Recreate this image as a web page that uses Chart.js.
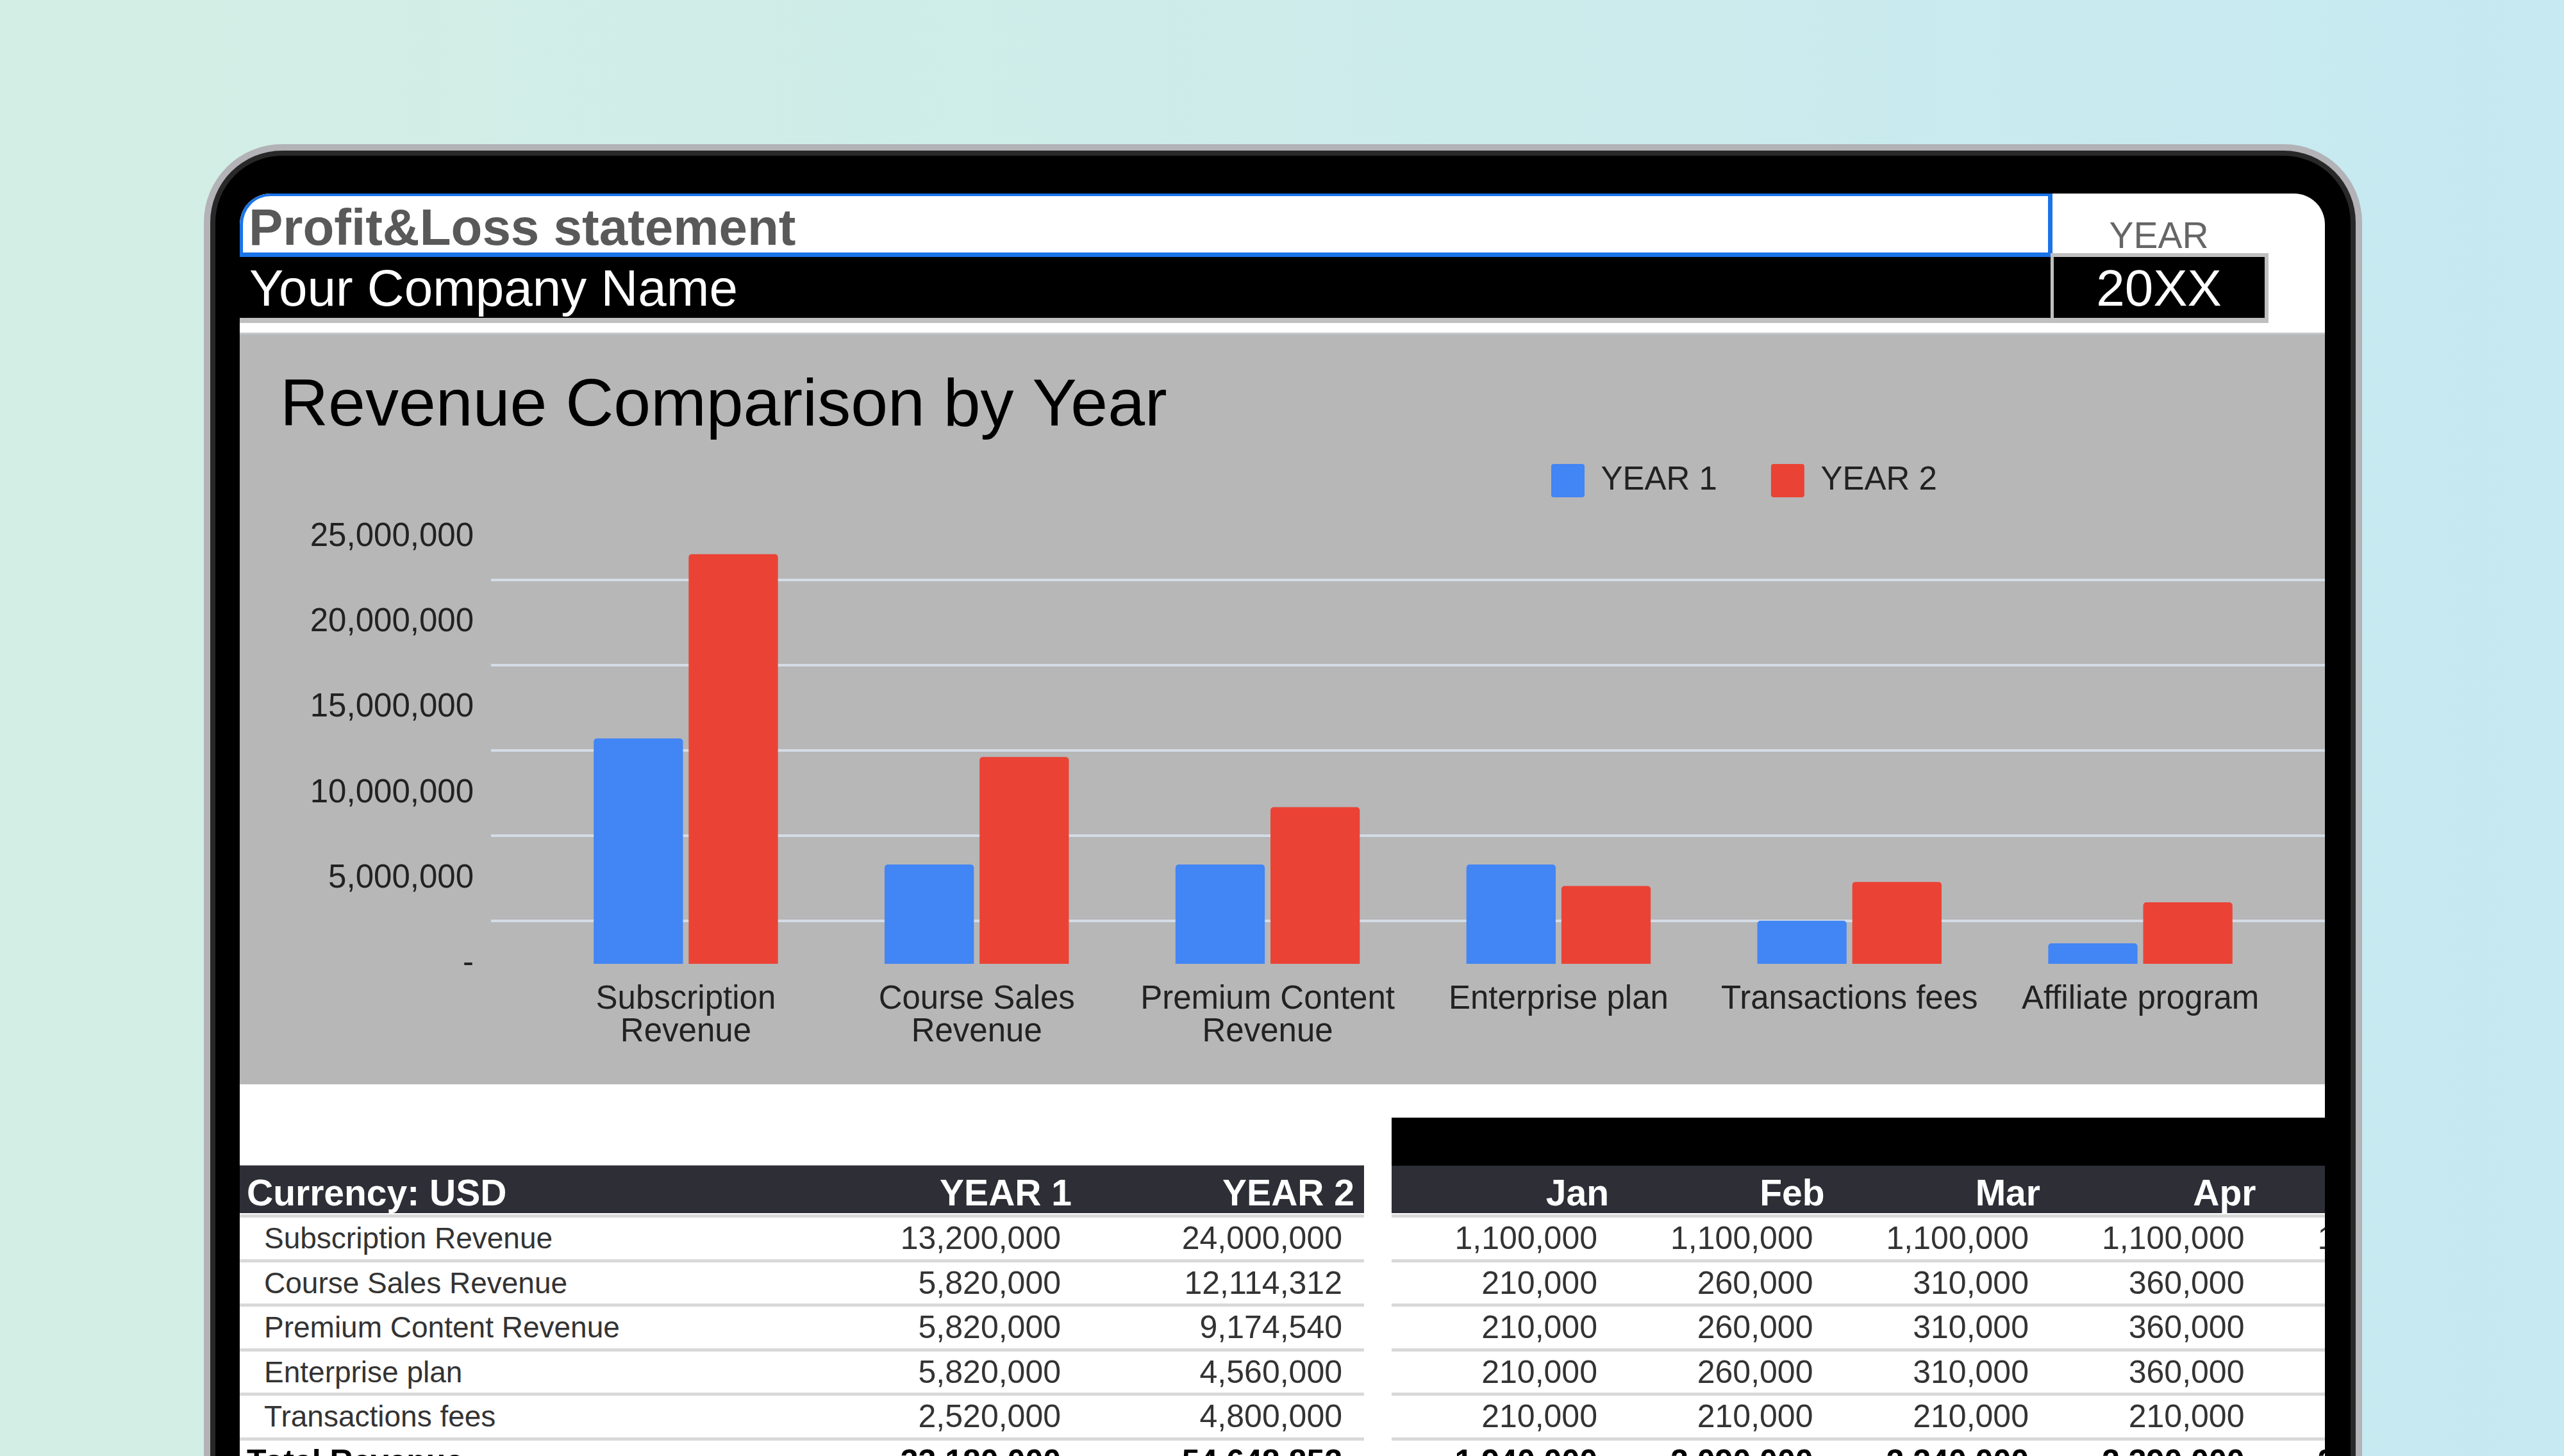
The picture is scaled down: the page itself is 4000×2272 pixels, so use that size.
<!DOCTYPE html>
<html>
<head>
<meta charset="utf-8">
<title>Profit&amp;Loss statement</title>
<script src="https://cdn.jsdelivr.net/npm/chart.js@4.4.1/dist/chart.umd.min.js"></script>
<style>
	html, body { margin: 0; padding: 0; }
	body {
		width: 4000px; height: 2272px; overflow: hidden; position: relative;
		background: linear-gradient(90deg, #d3eee4 0%, #cdecea 50%, #c6e9f2 100%);
		font-family: "Liberation Sans", Arial, sans-serif;
	}
	.device { position: absolute; left: 318px; top: 225px; width: 3367px; height: 2200px; background: #b2b2b7; border-radius: 122px 122px 0 0; }
	.ring { position: absolute; left: 10px; top: 10px; right: 10px; bottom: 0; background: #282828; border-radius: 112px 112px 0 0; }
	.bezel { position: absolute; left: 8px; top: 8px; right: 8px; bottom: 0; background: #000; border-radius: 104px 104px 0 0; }
	.screen { position: absolute; left: 374px; top: 302px; width: 3253px; height: 2000px; background: #fff; border-radius: 48px 48px 0 0; overflow: hidden; }
	.abs { position: absolute; white-space: nowrap; }
	.titlecell { left: 0; top: 0; width: 2828px; height: 99px; box-sizing: border-box; border-style: solid; border-color: #1a73e8; border-width: 4px 7px 7px 5px; border-top-left-radius: 48px; }
	.blackrow { left: 0; top: 99px; width: 2825px; height: 95px; background: #000; }
	.grayline { left: 0; top: 194px; width: 2825px; height: 8px; background: #c0c0c0; }
	.yearcell { left: 2825px; top: 93px; width: 340px; height: 109px; box-sizing: border-box; background: #000; border-style: solid; border-color: #bfbfbf; border-width: 6px 6px 8px 5px; }
	.t-main { left: 14px; top: 13px; font-size: 80px; line-height: 80px; font-weight: bold; color: #595959; }
	.t-year { left: 2994px; top: 37px; font-size: 57px; line-height: 57px; color: #666; transform: translateX(-50%); }
	.t-company { left: 15px; top: 108px; font-size: 80px; line-height: 80px; color: #fff; }
	.t-20xx { left: 2994px; top: 108px; font-size: 80px; line-height: 80px; color: #fff; transform: translateX(-50%); }
	.panel { left: 0; top: 217px; width: 3253px; height: 1173px; background: #b7b7b7; box-shadow: inset 0 3px 0 #c4c7cc; }
	.panel canvas { position: absolute; left: 0; top: 0; width: 3253px; height: 1173px; }
	.tbl { position: absolute; }
	.cell { position: absolute; white-space: nowrap; }
	.hdr { color: #fff; font-weight: bold; font-size: 57px; }
	.lbl { color: #333; font-size: 46px; }
	.num { color: #333; font-size: 50px; }
	.tot { color: #000; font-weight: bold; font-size: 50px; }
</style>
</head>
<body>
<div class="device"><div class="ring"><div class="bezel"></div></div></div>
<div class="screen" id="screen">
	<div class="abs titlecell"></div>
	<div class="abs blackrow"></div>
	<div class="abs grayline"></div>
	<div class="abs yearcell"></div>
	<div class="abs t-main">Profit&amp;Loss statement</div>
	<div class="abs t-year">YEAR</div>
	<div class="abs t-company">Your Company Name</div>
	<div class="abs t-20xx">20XX</div>
	<div class="abs panel"><canvas id="chart" width="3253" height="1173"></canvas></div>
	<div class="tbl" id="leftTable" style="left:0; top:1516px; width:1754px; height:500px;"></div>
	<div class="tbl" id="rightTable" style="left:1797px; top:1442px; width:2000px; height:600px;"></div>
</div>
<script>
// chart data
var categories = [
	['Subscription', 'Revenue'],
	['Course Sales', 'Revenue'],
	['Premium Content', 'Revenue'],
	'Enterprise plan',
	'Transactions fees',
	'Affiliate program'
];
var seriesNames = ['YEAR 1', 'YEAR 2'];
var year1Values = [13200000, 5820000, 5820000, 5820000, 2520000, 1200000];
var year2Values = [24000000, 12114312, 9174540, 4560000, 4800000, 3600000];
var gridValues = [2500000, 7500000, 12500000, 17500000, 22500000];

// table data
var rowLabels = ['Subscription Revenue', 'Course Sales Revenue', 'Premium Content Revenue', 'Enterprise plan', 'Transactions fees'];
var tableYear1 = [13200000, 5820000, 5820000, 5820000, 2520000];
var tableYear2 = [24000000, 12114312, 9174540, 4560000, 4800000];
var months = ['Jan', 'Feb', 'Mar', 'Apr', 'May'];
var janValues = [1100000, 210000, 210000, 210000, 210000];
var febValues = [1100000, 260000, 260000, 260000, 210000];
var marValues = [1100000, 310000, 310000, 310000, 210000];
var aprValues = [1100000, 360000, 360000, 360000, 210000];
var mayValues = [1100000, 410000, 410000, 410000, 210000];

var FONT = '"Liberation Sans", Arial, sans-serif',
	BLUE = '#4285f4',
	RED = '#ea4335',
	GRID_COLOR = '#d4dce7',
	GRID_LEFT = 392,     // gridlines start left of the first category
	LEGEND_LEFT = 1962,
	LEGEND_TOP = 121;

function fmt(v) {
	return v.toLocaleString('en-US');
}
function sum(arr) {
	return arr.reduce(function (a, b) { return a + b; }, 0);
}

// Sheets draws its gridlines half way between the labelled values
var offsetGrid = {
	id: 'offsetGrid',
	beforeDatasetsDraw: function (chart) {
		var ctx = chart.ctx,
			y = chart.scales.y;
		ctx.save();
		ctx.strokeStyle = GRID_COLOR;
		ctx.lineWidth = 4;
		gridValues.forEach(function (v) {
			var py = Math.round(y.getPixelForValue(v));
			ctx.beginPath();
			ctx.moveTo(GRID_LEFT, py);
			ctx.lineTo(chart.width, py);
			ctx.stroke();
		});
		ctx.restore();
	}
};

// legend sits off-centre, above the right half of the plot
var legendPlace = {
	id: 'legendPlace',
	afterLayout: function (chart) {
		var lg = chart.legend,
			w = lg.right - lg.left,
			h = lg.bottom - lg.top;
		lg.left = LEGEND_LEFT;
		lg.right = LEGEND_LEFT + w;
		lg.top = LEGEND_TOP;
		lg.bottom = LEGEND_TOP + h;
	}
};

new Chart(document.getElementById('chart'), {
	type: 'bar',
	data: {
		labels: categories,
		datasets: [{
			label: seriesNames[0],
			data: year1Values,
			backgroundColor: BLUE,
			borderRadius: 5,
			categoryPercentage: 0.653,
			barPercentage: 0.94
		}, {
			label: seriesNames[1],
			data: year2Values,
			backgroundColor: RED,
			borderRadius: 5,
			categoryPercentage: 0.653,
			barPercentage: 0.94
		}]
	},
	options: {
		responsive: false,
		animation: false,
		devicePixelRatio: 1,
		layout: { padding: { left: 63, right: 61, top: 0, bottom: 34 } },
		plugins: {
			title: {
				display: true,
				text: 'Revenue Comparison by Year',
				align: 'start',
				color: '#000',
				font: { family: FONT, size: 104, weight: 'normal', lineHeight: 1 },
				padding: { top: 64, bottom: 5 }
			},
			legend: {
				position: 'top',
				align: 'start',
				labels: {
					boxWidth: 52,
					boxHeight: 52,
					padding: 84,
					color: '#222',
					useBorderRadius: true,
					borderRadius: 4,
					font: { family: FONT, size: 51 }
				}
			},
			tooltip: { enabled: false }
		},
		scales: {
			x: {
				grid: { display: false },
				border: { display: false },
				ticks: {
					color: '#222',
					font: { family: FONT, size: 51, lineHeight: 1 },
					padding: 22,
					maxRotation: 0,
					autoSkip: false
				}
			},
			y: {
				min: 0,
				max: 25000000,
				grid: { display: false },
				border: { display: false },
				ticks: {
					stepSize: 5000000,
					color: '#222',
					padding: 96,
					font: { family: FONT, size: 51 },
					callback: function (v) { return v === 0 ? '-' : fmt(v); }
				},
				afterFit: function (scale) { scale.width = 406; }
			}
		}
	},
	plugins: [offsetGrid, legendPlace]
});

// spreadsheet tables under the chart
function addBox(parent, x, y, w, h, color) {
	var d = document.createElement('div');
	d.className = 'cell';
	d.style.cssText += 'left:' + x + 'px;top:' + y + 'px;width:' + w + 'px;height:' + h + 'px;background:' + color + ';';
	parent.appendChild(d);
}
function addText(parent, text, x, y, h, cls, right, shift) {
	var d = document.createElement('div');
	d.className = 'cell ' + cls;
	d.textContent = text;
	d.style.left = x + 'px';
	d.style.top = (y + (shift || 0)) + 'px';
	d.style.height = h + 'px';
	d.style.lineHeight = h + 'px';
	if (right) {
		d.style.transform = 'translateX(-100%)';
	}
	parent.appendChild(d);
}

var HDR_BG = '#2d2e36',
	SEP = '#d9d9d9',
	ROW_H = 69.5;

var lt = document.getElementById('leftTable');
addBox(lt, 0, 0, 1754, 1, '#a0a0a0');
addBox(lt, 0, 1, 1754, 74, HDR_BG);
addText(lt, 'Currency: USD', 11, 1, 74, 'hdr', false, 5);
addText(lt, seriesNames[0], 1298, 1, 74, 'hdr', true, 5);
addText(lt, seriesNames[1], 1739, 1, 74, 'hdr', true, 5);
rowLabels.concat(['Total Revenue']).forEach(function (label, k) {
	var top = 77 + ROW_H * k,
		isTotal = k === rowLabels.length,
		v1 = isTotal ? sum(tableYear1) : tableYear1[k],
		v2 = isTotal ? sum(tableYear2) : tableYear2[k];
	addBox(lt, 0, top, 1754, 5, SEP);
	addText(lt, label, isTotal ? 11 : 38, top + 5, 64.5, isTotal ? 'tot' : 'lbl');
	addText(lt, fmt(v1), 1281, top + 5, 64.5, isTotal ? 'tot' : 'num', true);
	addText(lt, fmt(v2), 1720, top + 5, 64.5, isTotal ? 'tot' : 'num', true);
});

var rt = document.getElementById('rightTable'),
	monthCols = [janValues, febValues, marValues, aprValues, mayValues];
addBox(rt, 0, 0, 2000, 75, '#000');
addBox(rt, 0, 75, 2000, 74, HDR_BG);
months.forEach(function (m, i) {
	var right = 321 + 336.5 * i,
		col = monthCols[i];
	addText(rt, m, right + 18, 75, 74, 'hdr', true, 5);
	col.concat([sum(col)]).forEach(function (v, k) {
		var top = 151 + ROW_H * k,
			isTotal = k === col.length;
		if (i === 0) {
			addBox(rt, 0, top, 2000, 5, SEP);
		}
		addText(rt, fmt(v), right, top + 5, 64.5, isTotal ? 'tot' : 'num', true);
	});
});
</script>
</body>
</html>
